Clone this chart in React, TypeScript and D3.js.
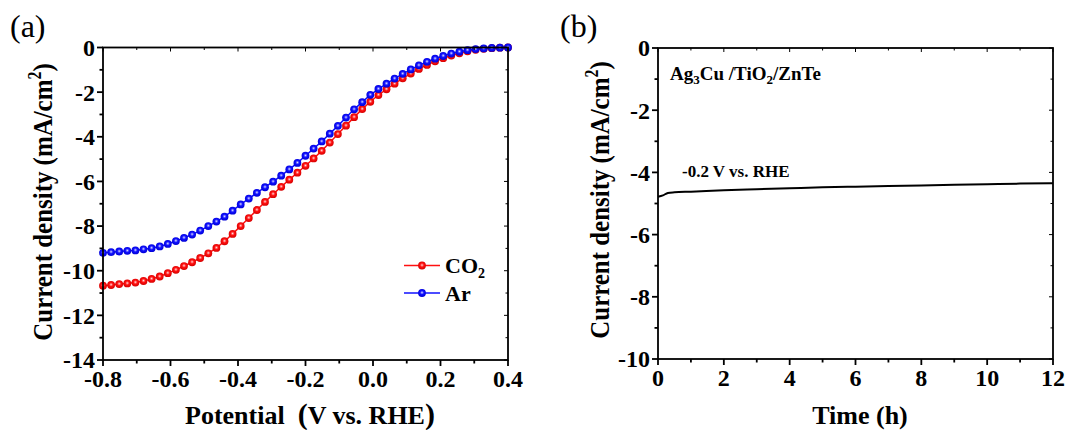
import React from "react";
import * as d3 from "d3";

// ---------- Data ----------
const potentials = [
  -0.8, -0.776, -0.752, -0.728, -0.704, -0.68, -0.656, -0.632, -0.608, -0.584,
  -0.56, -0.536, -0.512, -0.488, -0.464, -0.44, -0.416, -0.392, -0.368, -0.344,
  -0.32, -0.296, -0.272, -0.248, -0.224, -0.2, -0.176, -0.152, -0.128, -0.104,
  -0.08, -0.056, -0.032, -0.008, 0.016, 0.04, 0.064, 0.088, 0.112, 0.136,
  0.16, 0.184, 0.208, 0.232, 0.256, 0.28, 0.304, 0.328, 0.352, 0.376, 0.4,
];
const co2Current = [
  -10.67, -10.64, -10.6, -10.57, -10.53, -10.46, -10.37, -10.26, -10.11, -9.96,
  -9.79, -9.62, -9.43, -9.22, -8.98, -8.68, -8.35, -8.0, -7.64, -7.28,
  -6.92, -6.57, -6.24, -5.92, -5.61, -5.3, -4.97, -4.63, -4.26, -3.88,
  -3.5, -3.12, -2.76, -2.43, -2.13, -1.87, -1.62, -1.38, -1.17, -0.96,
  -0.78, -0.62, -0.48, -0.36, -0.26, -0.17, -0.1, -0.06, -0.03, -0.01, 0.0,
];
const arCurrent = [
  -9.2, -9.17, -9.14, -9.11, -9.09, -9.04, -8.99, -8.91, -8.8, -8.67,
  -8.53, -8.38, -8.2, -8.0, -7.8, -7.58, -7.31, -7.03, -6.77, -6.51,
  -6.26, -6.01, -5.74, -5.46, -5.17, -4.85, -4.53, -4.21, -3.86, -3.51,
  -3.14, -2.77, -2.45, -2.12, -1.86, -1.62, -1.39, -1.18, -0.98, -0.8,
  -0.64, -0.5, -0.38, -0.27, -0.19, -0.12, -0.07, -0.04, -0.02, -0.01, 0.0,
];
const timeHours = [0, 0.15, 0.3, 0.5, 1, 2, 3, 4, 5, 6, 7, 8, 9, 10, 11, 12];
const stabilityCurrent = [
  -4.78, -4.74, -4.66, -4.64, -4.62, -4.57, -4.54, -4.51, -4.48, -4.46, -4.44,
  -4.42, -4.4, -4.38, -4.36, -4.35,
];

const aXTicks = [-0.8, -0.6, -0.4, -0.2, 0.0, 0.2, 0.4];
const aXMinor = [-0.7, -0.5, -0.3, -0.1, 0.1, 0.3];
const aYTicks = [0, -2, -4, -6, -8, -10, -12, -14];
const aYMinor = [-1, -3, -5, -7, -9, -11, -13];
const bXTicks = [0, 2, 4, 6, 8, 10, 12];
const bXMinor = [1, 3, 5, 7, 9, 11];
const bYTicks = [0, -2, -4, -6, -8, -10];
const bYMinor = [-1, -3, -5, -7, -9];

const FONT = "'Liberation Serif', 'Times New Roman', serif";
const RED = "#ff1010";
const BLUE = "#1010ff";
const TICK_FS = 24;

type AxisProps = {
  x: d3.ScaleLinear<number, number>;
  y: d3.ScaleLinear<number, number>;
  xTicks: number[];
  xMinor: number[];
  yTicks: number[];
  yMinor: number[];
  xFmt: (v: number) => string;
  yFmt: (v: number) => string;
};

function Frame({ x, y, xTicks, xMinor, yTicks, yMinor, xFmt, yFmt }: AxisProps) {
  const [x0, x1] = x.range();
  const [y0, y1] = y.range();
  const top = Math.min(y0, y1);
  const bottom = Math.max(y0, y1);
  const sw = 1.8;
  return (
    <g>
      <rect x={x0} y={top} width={x1 - x0} height={bottom - top} fill="none" stroke="#000" strokeWidth={sw} />
      {xTicks.map((t) => (
        <g key={"xt" + t}>
          <line x1={x(t)} x2={x(t)} y1={bottom} y2={bottom + 6} stroke="#000" strokeWidth={sw} />
          <line x1={x(t)} x2={x(t)} y1={top} y2={top + 4} stroke="#000" strokeWidth={1} />
          <text x={x(t)} y={bottom + 27} textAnchor="middle" fontFamily={FONT} fontWeight="bold" fontSize={TICK_FS}>
            {xFmt(t)}
          </text>
        </g>
      ))}
      {xMinor.map((t) => (
        <g key={"xm" + t}>
          <line x1={x(t)} x2={x(t)} y1={bottom} y2={bottom + 3.5} stroke="#000" strokeWidth={sw} />
          <line x1={x(t)} x2={x(t)} y1={top} y2={top + 2.5} stroke="#000" strokeWidth={1} />
        </g>
      ))}
      {yTicks.map((t) => (
        <g key={"yt" + t}>
          <line x1={x0 - 6} x2={x0} y1={y(t)} y2={y(t)} stroke="#000" strokeWidth={sw} />
          <line x1={x1 - 4} x2={x1} y1={y(t)} y2={y(t)} stroke="#000" strokeWidth={1} />
          <text x={x0 - 8} y={y(t)} dy="0.35em" textAnchor="end" fontFamily={FONT} fontWeight="bold" fontSize={TICK_FS}>
            {yFmt(t)}
          </text>
        </g>
      ))}
      {yMinor.map((t) => (
        <g key={"ym" + t}>
          <line x1={x0 - 3.5} x2={x0} y1={y(t)} y2={y(t)} stroke="#000" strokeWidth={sw} />
          <line x1={x1 - 2.5} x2={x1} y1={y(t)} y2={y(t)} stroke="#000" strokeWidth={1} />
        </g>
      ))}
    </g>
  );
}

function YLabel({ cx, cy }: { cx: number; cy: number }) {
  return (
    <text
      transform={`translate(${cx},${cy}) rotate(-90) scale(0.89,1)`}
      textAnchor="middle"
      fontFamily={FONT}
      fontWeight="bold"
      fontSize={28}
    >
      Current density (mA/cm
      <tspan dy={-11} fontSize={18}>2</tspan>
      <tspan dy={11}>)</tspan>
    </text>
  );
}

export default function App() {
  // Panel (a)
  const ax = d3.scaleLinear().domain([-0.8, 0.4]).range([103, 508]);
  const ay = d3.scaleLinear().domain([0, -14]).range([47.5, 360]);
  // Panel (b)
  const bx = d3.scaleLinear().domain([0, 12]).range([658, 1053]);
  const by = d3.scaleLinear().domain([0, -10]).range([48, 359]);

  const lineA = d3
    .line<number>()
    .x((_, i) => ax(potentials[i]))
    .y((d) => ay(d));
  const lineB = d3
    .line<number>()
    .x((_, i) => bx(timeHours[i]))
    .y((d) => by(d))
    .curve(d3.curveMonotoneX);

  const fmtInt = (v: number) => String(v);

  const series = [
    { name: "CO2", values: co2Current, color: RED, grad: "gradRed" },
    { name: "Ar", values: arCurrent, color: BLUE, grad: "gradBlue" },
  ];

  return (
    <svg
      width={1092}
      height={430}
      style={{ position: "absolute", left: 0, top: 0, background: "#fff" }}
    >
      <defs>
        <radialGradient id="gradRed" cx="50%" cy="45%" r="55%">
          <stop offset="0%" stopColor="#ffe8e8" />
          <stop offset="18%" stopColor="#ff8080" />
          <stop offset="45%" stopColor={RED} />
          <stop offset="100%" stopColor="#d40000" />
        </radialGradient>
        <radialGradient id="gradBlue" cx="50%" cy="45%" r="55%">
          <stop offset="0%" stopColor="#e8e8ff" />
          <stop offset="18%" stopColor="#8080ff" />
          <stop offset="45%" stopColor={BLUE} />
          <stop offset="100%" stopColor="#0000d4" />
        </radialGradient>
      </defs>
      <rect x={0} y={0} width={1092} height={430} fill="#fff" />

      {/* Panel (a) */}
      <text x={10} y={37} fontFamily={FONT} fontSize={32}>(a)</text>
      {series.map((s) => (
        <g key={s.name}>
          <path d={lineA(s.values) || ""} fill="none" stroke={s.color} strokeWidth={1.5} />
          {s.values.map((v, i) => (
            <circle key={i} cx={ax(potentials[i])} cy={ay(v)} r={3.9} fill={`url(#${s.grad})`} />
          ))}
        </g>
      ))}
      <Frame
        x={ax}
        y={ay}
        xTicks={aXTicks}
        xMinor={aXMinor}
        yTicks={aYTicks}
        yMinor={aYMinor}
        xFmt={(v) => (Math.abs(v) < 1e-9 ? "0.0" : v.toFixed(1))}
        yFmt={fmtInt}
      />
      <YLabel cx={52} cy={202} />
      <text x={310} y={424} textAnchor="middle" fontFamily={FONT} fontWeight="bold" fontSize={26}>
        {"Potential\u00A0\u00A0"}
        <tspan fontSize={30}>(</tspan>V vs. RHE<tspan fontSize={30}>)</tspan>
      </text>
      {/* Legend */}
      {series.map((s, i) => (
        <g key={"lg" + s.name} transform={`translate(0,${i * 27.5})`}>
          <line x1={404} x2={440} y1={265.5} y2={265.5} stroke={s.color} strokeWidth={1.5} />
          <circle cx={422} cy={265.5} r={3.9} fill={`url(#${s.grad})`} />
          <text x={445} y={273} fontFamily={FONT} fontWeight="bold" fontSize={22}>
            {s.name === "CO2" ? (
              <>
                CO<tspan dy={5} fontSize={14}>2</tspan>
              </>
            ) : (
              s.name
            )}
          </text>
        </g>
      ))}

      {/* Panel (b) */}
      <text x={560} y={37} fontFamily={FONT} fontSize={32}>(b)</text>
      <path d={lineB(stabilityCurrent) || ""} fill="none" stroke="#000" strokeWidth={2} />
      <Frame
        x={bx}
        y={by}
        xTicks={bXTicks}
        xMinor={bXMinor}
        yTicks={bYTicks}
        yMinor={bYMinor}
        xFmt={fmtInt}
        yFmt={fmtInt}
      />
      <YLabel cx={609} cy={200} />
      <text x={860} y={424} textAnchor="middle" fontFamily={FONT} fontWeight="bold" fontSize={26}>
        Time (h)
      </text>
      <text x={670} y={80} fontFamily={FONT} fontWeight="bold" fontSize={19}>
        Ag<tspan dy={4} fontSize={13}>3</tspan>
        <tspan dy={-4}>Cu /TiO</tspan>
        <tspan dy={4} fontSize={13}>2</tspan>
        <tspan dy={-4}>/ZnTe</tspan>
      </text>
      <text x={682} y={177} fontFamily={FONT} fontWeight="bold" fontSize={17}>
        -0.2 V vs. RHE
      </text>
    </svg>
  );
}
